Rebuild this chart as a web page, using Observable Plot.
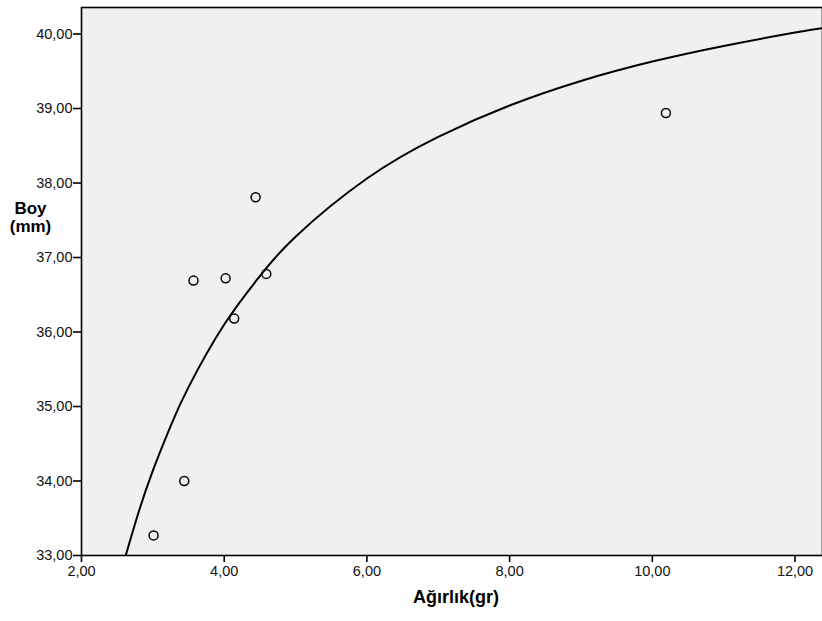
<!DOCTYPE html>
<html><head><meta charset="utf-8">
<script src="https://cdn.jsdelivr.net/npm/d3@7"></script>
<script src="https://cdn.jsdelivr.net/npm/@observablehq/plot@0.6"></script>
<style>body{margin:0;background:#fff;}</style>
</head><body><div id="chart"></div>
<script>
// Observed points
const agirlikGr = [3.01, 3.44, 3.57, 4.02, 4.14, 4.44, 4.59, 10.19];
const boyMm     = [33.27, 34.00, 36.69, 36.72, 36.18, 37.81, 36.78, 38.94];
// Fitted curve
const fitX = [2.62, 2.8, 3.0, 3.25, 3.5, 4.0, 4.5, 5.0, 6.0, 7.0, 8.0, 9.0, 10.0, 11.0, 12.0, 12.39];
const fitY = [33.00, 33.58, 34.14, 34.74, 35.26, 36.10, 36.75, 37.28, 38.06, 38.62, 39.04, 39.37, 39.63, 39.84, 40.02, 40.08];
const xTicks = [2, 4, 6, 8, 10, 12];
const yTicks = [33, 34, 35, 36, 37, 38, 39, 40];
const xLabel = "Ağırlık(gr)";
const yLabel = "Boy\n(mm)";

const points = agirlikGr.map((x, i) => ({x, y: boyMm[i]}));
const fit = fitX.map((x, i) => ({x, y: fitY[i]}));
const fmt = v => d3.format(".2f")(v).replace(".", ",");

const chart = Plot.plot({
  width: 822,
  height: 621,
  marginLeft: 81,
  marginRight: 0,
  marginTop: 7,
  marginBottom: 66,
  style: {fontFamily: "Arial, 'Liberation Sans', sans-serif", fontSize: "14px", color: "#000", background: "#fff"},
  x: {domain: [2, 12.385], label: null},
  y: {domain: [33, 40.356], label: null},
  marks: [
    Plot.frame({fill: "#f0f0f0"}),
    Plot.axisX({ticks: xTicks, tickFormat: fmt, tickSize: 7, tickPadding: 3, strokeWidth: 1.6, fontSize: 14.5, fill: "#111", label: null}),
    Plot.axisY({ticks: yTicks, tickFormat: fmt, tickSize: 8, tickPadding: 1, strokeWidth: 1.6, fontSize: 14.5, fill: "#111", label: null}),
    Plot.line(fit, {x: "x", y: "y", curve: "natural", stroke: "black", strokeWidth: 2, clip: true}),
    Plot.dot(points, {x: "x", y: "y", r: 4.5, stroke: "black", strokeWidth: 1.5, fill: "none"}),
    Plot.frame({stroke: "black", strokeWidth: 1.6}),
    Plot.text([yLabel], {frameAnchor: "left", dx: -51, dy: -64, fontWeight: "bold", fontSize: 17, lineHeight: 1.05, textAnchor: "middle", fill: "black"}),
    Plot.text([xLabel], {frameAnchor: "bottom", dx: 4, dy: 47, fontWeight: "bold", fontSize: 18, fill: "black"})
  ]
});
document.getElementById("chart").appendChild(chart);
</script>
</body></html>
